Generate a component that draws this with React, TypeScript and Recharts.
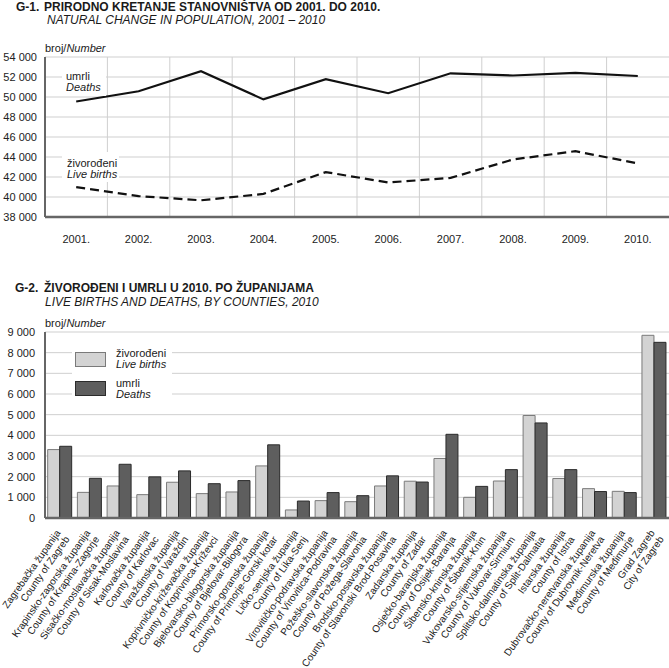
import React from 'react';
import {
  LineChart, Line, BarChart, Bar, XAxis, YAxis, CartesianGrid, ReferenceLine,
} from 'recharts';

const FONT = '"Liberation Sans", Arial, Helvetica, sans-serif';

// G-1 natural change 2001-2010
const years = ['2001.', '2002.', '2003.', '2004.', '2005.', '2006.', '2007.', '2008.', '2009.', '2010.'];
const deaths = [49550, 50570, 52580, 49760, 51790, 50380, 52370, 52150, 52410, 52100];
const liveBirths = [40990, 40090, 39670, 40310, 42490, 41450, 41910, 43750, 44580, 43360];
const trendTicks = [38000, 40000, 42000, 44000, 46000, 48000, 50000, 52000, 54000];

// G-2 by counties, 2010
const countiesHr = [
  'Zagrebačka županija', 'Krapinsko-zagorska županija', 'Sisačko-moslavačka županija',
  'Karlovačka županija', 'Varaždinska županija', 'Koprivničko-križevačka županija',
  'Bjelovarsko-bilogorska županija', 'Primorsko-goranska županija', 'Ličko-senjska županija',
  'Virovitičko-podravska županija', 'Požeško-slavonska županija', 'Brodsko-posavska županija',
  'Zadarska županija', 'Osječko-baranjska županija', 'Šibensko-kninska županija',
  'Vukovarsko-srijemska županija', 'Splitsko-dalmatinska županija', 'Istarska županija',
  'Dubrovačko-neretvanska županija', 'Međimurska županija', 'Grad Zagreb',
];
const countiesEn = [
  'County of Zagreb', 'County of Krapina-Zagorje', 'County of Sisak-Moslavina',
  'County of Karlovac', 'County of Varaždin', 'County of Koprivnica-Križevci',
  'County of Bjelovar-Bilogora', 'County of Primorje-Gorski kotar', 'County of Lika-Senj',
  'County of Virovitica-Podravina', 'County of Požega-Slavonia', 'County of Slavonski Brod-Posavina',
  'County of Zadar', 'County of Osijek-Baranja', 'County of Šibenik-Knin',
  'County of Vukovar-Sirmium', 'County of Split-Dalmatia', 'County of Istria',
  'County of Dubrovnik-Neretva', 'County of Međimurje', 'City of Zagreb',
];
const countyBirths = [3310, 1240, 1550, 1130, 1730, 1180, 1260, 2520, 390, 840, 790, 1550, 1780, 2880, 1000, 1790, 4960, 1910, 1420, 1290, 8840];
const countyDeaths = [3470, 1920, 2600, 1990, 2280, 1660, 1810, 3540, 820, 1230, 1080, 2040, 1740, 4050, 1530, 2340, 4600, 2340, 1280, 1230, 8500];
const countyTicks = [0, 1000, 2000, 3000, 4000, 5000, 6000, 7000, 8000, 9000];

const LIGHT = '#d3d3d3';
const LIGHT_EDGE = '#7a7a7a';
const DARK = '#5e5e5e';
const DARK_EDGE = '#2b2b2b';
const GRID = '#cfcfcf';
const AXIS = '#666';

const fmt = (v: number) => String(v).replace(/\B(?=(\d{3})+(?!\d))/g, ' ');

const trendData = years.map((y, i) => ({ pos: i + 0.5, year: y, deaths: deaths[i], births: liveBirths[i] }));
const countyData = countiesHr.map((hr, i) => ({ hr, en: countiesEn[i], births: countyBirths[i], deaths: countyDeaths[i] }));

function CountyTick(props: any) {
  const { x, y, payload, index } = props;
  return (
    <g transform={`translate(${x + 1},${y + 15})`}>
      <text transform="rotate(-55)" textAnchor="end" fontSize={10} fontFamily={FONT} fill="#222">
        <tspan x={0} dy={0}>{payload.value}</tspan>
        <tspan x={0} dy={11}>{countiesEn[index]}</tspan>
      </text>
    </g>
  );
}

export default function App() {
  const tickStyle = { fontSize: 11, fontFamily: FONT, fill: '#222' };
  return (
    <div style={{ position: 'absolute', left: 0, top: 0, width: 669, height: 668, background: '#fff', fontFamily: FONT }}>
      <div style={{ position: 'absolute', left: 0, top: 0 }}>
        <LineChart width={669} height={250} data={trendData} margin={{ top: 57, right: 0, left: 0, bottom: 0 }}>
          <CartesianGrid vertical={false} stroke={GRID} />
          {years.slice(1).map((_, i) => (
            <ReferenceLine key={i} x={i + 1} stroke={GRID} />
          ))}
          <XAxis
            dataKey="pos" type="number" domain={[0, years.length]} ticks={trendData.map(d => d.pos)}
            tickFormatter={(v: number) => years[Math.floor(v)]} interval={0}
            height={33} tickLine={false} tickSize={0} tickMargin={18}
            axisLine={{ stroke: AXIS, strokeWidth: 2.5 }} tick={tickStyle}
          />
          <YAxis
            domain={[38000, 54000]} ticks={trendTicks} tickFormatter={fmt} width={45} interval={0}
            tickLine={false} tickSize={0} tickMargin={8}
            axisLine={{ stroke: AXIS, strokeWidth: 2 }} tick={tickStyle}
          />
          <Line type="linear" dataKey="deaths" stroke="#111" strokeWidth={2.2} dot={false} isAnimationActive={false} />
          <Line type="linear" dataKey="births" stroke="#111" strokeWidth={2.2} strokeDasharray="9 5" dot={false} isAnimationActive={false} />
        </LineChart>
      </div>

      <div style={{ position: 'absolute', left: 0, top: 260 }}>
        <BarChart width={669} height={408} data={countyData} margin={{ top: 72, right: 0, left: 0, bottom: 0 }}
          barCategoryGap="9%" barGap={0}>
          <CartesianGrid vertical={false} stroke={GRID} />
          <XAxis
            dataKey="hr" interval={0} height={150} tickLine={false} tickSize={0} tickMargin={0}
            axisLine={{ stroke: AXIS, strokeWidth: 2.5 }} tick={<CountyTick />}
          />
          <YAxis
            domain={[0, 9000]} ticks={countyTicks} tickFormatter={fmt} width={45} interval={0}
            tickLine={false} tickSize={0} tickMargin={10}
            axisLine={{ stroke: AXIS, strokeWidth: 2 }} tick={tickStyle}
          />
          <Bar dataKey="births" fill={LIGHT} stroke={LIGHT_EDGE} strokeWidth={1} isAnimationActive={false} />
          <Bar dataKey="deaths" fill={DARK} stroke={DARK_EDGE} strokeWidth={1} isAnimationActive={false} />
        </BarChart>
      </div>

      <svg width={669} height={668} style={{ position: 'absolute', left: 0, top: 0, pointerEvents: 'none' }}
        fontFamily={FONT} fill="#1a1a1a">
        <text x={16} y={11} fontSize={12} fontWeight="bold">G-1.</text>
        <text x={44} y={11} fontSize={12} fontWeight="bold">PRIRODNO KRETANJE STANOVNIŠTVA OD 2001. DO 2010.</text>
        <text x={47} y={24} fontSize={12} fontStyle="italic">NATURAL CHANGE IN POPULATION, 2001 – 2010</text>
        <text x={45} y={52} fontSize={11}>broj/<tspan fontStyle="italic">Number</tspan></text>

        <rect x={62} y={66} width={44} height={30} fill="#fff" />
        <text x={66} y={80} fontSize={11}>umrli</text>
        <text x={66} y={91} fontSize={11} fontStyle="italic">Deaths</text>
        <rect x={62} y={152} width={57} height={30} fill="#fff" />
        <text x={67} y={167} fontSize={11}>živorođeni</text>
        <text x={67} y={178} fontSize={11} fontStyle="italic">Live births</text>

        <text x={15} y={292} fontSize={12} fontWeight="bold">G-2.</text>
        <text x={44} y={292} fontSize={12} fontWeight="bold">ŽIVOROĐENI I UMRLI U 2010. PO ŽUPANIJAMA</text>
        <text x={45} y={306} fontSize={12} fontStyle="italic">LIVE BIRTHS AND DEATHS, BY COUNTIES, 2010</text>
        <text x={45} y={327} fontSize={11}>broj/<tspan fontStyle="italic">Number</tspan></text>

        <rect x={72} y={343} width={100} height={62} fill="#fff" />
        <rect x={75.5} y={352.5} width={30} height={14} fill={LIGHT} stroke={LIGHT_EDGE} />
        <rect x={75.5} y={381.5} width={30} height={14} fill={DARK} stroke={DARK_EDGE} />
        <text x={116} y={357} fontSize={11}>živorođeni</text>
        <text x={116} y={368} fontSize={11} fontStyle="italic">Live births</text>
        <text x={116} y={387} fontSize={11}>umrli</text>
        <text x={116} y={398} fontSize={11} fontStyle="italic">Deaths</text>
      </svg>
    </div>
  );
}
